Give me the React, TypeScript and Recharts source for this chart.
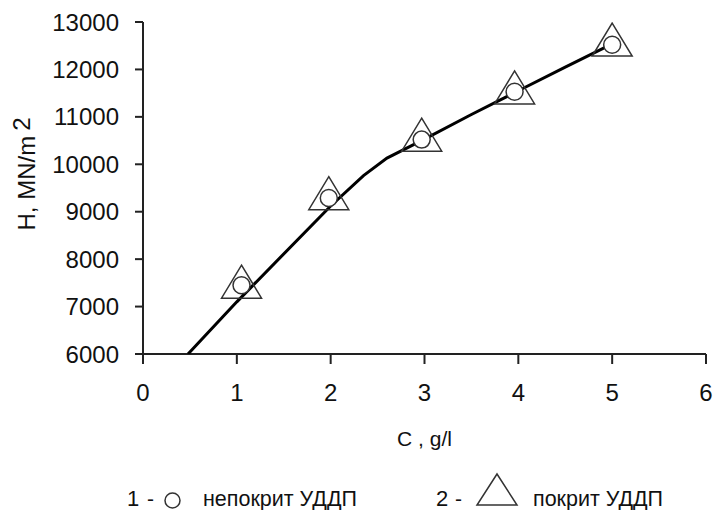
import React from 'react';
import { ScatterChart, Scatter, XAxis, YAxis, Label } from 'recharts';

// concentration, g/l
const xTicks = [0, 1, 2, 3, 4, 5, 6];
const yTicks = [6000, 7000, 8000, 9000, 10000, 11000, 12000, 13000];

// measured points
const pointX = [1.05, 1.98, 2.97, 3.96, 5.0];
const uncoated = [7450, 9290, 10520, 11530, 12520];
const coated = [7525, 9390, 10625, 11620, 12630];

// drawn curve
const curveX = [0.48, 1, 2, 2.35, 2.6, 3, 3.5, 4, 4.5, 5];
const curveY = [6000, 7100, 9120, 9760, 10130, 10530, 11050, 11550, 12050, 12540];

const legendLabels = ['непокрит УДДП', 'покрит УДДП'];

const FONT = '"Liberation Sans", Arial, sans-serif';
const INK = '#111';

const circleData = pointX.map((x, i) => ({ x, y: uncoated[i] }));
const triangleData = pointX.map((x, i) => ({ x, y: coated[i] }));
const curveData = curveX.map((x, i) => ({ x, y: curveY[i] }));

const NoDot = () => <g />;

const CircleDot = (props: any) => (
  <circle cx={props.cx} cy={props.cy} r={8.5} fill="#fff" stroke="#333" strokeWidth={1.5} />
);

const TriangleDot = (props: any) => {
  const { cx, cy } = props;
  return (
    <path
      d={`M${cx},${cy - 16.5} L${cx + 20},${cy + 16.5} L${cx - 20},${cy + 16.5} Z`}
      fill="none"
      stroke="#333"
      strokeWidth={1.5}
    />
  );
};

const XTick = (props: any) => (
  <text x={props.x} y={props.y} dy={17} textAnchor="middle" fontFamily={FONT} fontSize={24} fill={INK}>
    {props.payload.value}
  </text>
);

const YTick = (props: any) => (
  <text x={props.x} y={props.y} dy={8.5} textAnchor="end" fontFamily={FONT} fontSize={24} fill={INK}>
    {props.payload.value}
  </text>
);

const YTitle = () => (
  <text
    x={0}
    y={0}
    transform="translate(35, 174) rotate(-90)"
    textAnchor="middle"
    fontFamily={FONT}
    fontSize={24}
    fill={INK}
  >
    H, MN/m<tspan dx={5} dy={-5}>2</tspan>
  </text>
);

const App: React.FC = () => {
  return (
    <div style={{ position: 'absolute', left: 0, top: 0, width: 714, height: 510, background: '#fff' }}>
      <ScatterChart width={714} height={510} margin={{ top: 22, right: 8, left: 43, bottom: 56 }}>
        <XAxis
          type="number"
          dataKey="x"
          domain={[0, 6]}
          ticks={xTicks}
          allowDataOverflow
          height={100}
          tickSize={10}
          tickMargin={20}
          stroke="#222"
          strokeWidth={2}
          tick={<XTick />}
        >
          <Label
            value="C , g/l"
            position="insideBottom"
            offset={8}
            style={{ fontFamily: FONT, fontSize: 21, fill: INK }}
          />
        </XAxis>
        <YAxis
          type="number"
          dataKey="y"
          domain={[6000, 13000]}
          ticks={yTicks}
          allowDataOverflow
          width={100}
          tickSize={8}
          tickMargin={16}
          stroke="#222"
          strokeWidth={2}
          tick={<YTick />}
        >
          <Label content={<YTitle />} />
        </YAxis>
        <Scatter
          data={curveData}
          line={{ stroke: '#000', strokeWidth: 3 }}
          lineType="joint"
          shape={NoDot}
          isAnimationActive={false}
        />
        <Scatter data={circleData} shape={CircleDot} isAnimationActive={false} />
        <Scatter data={triangleData} shape={TriangleDot} isAnimationActive={false} />
      </ScatterChart>

      <svg width={714} height={50} style={{ position: 'absolute', left: 0, top: 460 }}>
        <text x={127} y={46} fontFamily={FONT} fontSize={22} fill={INK}>1</text>
        <text x={147} y={46} fontFamily={FONT} fontSize={21} fill={INK}>-</text>
        <circle cx={172.5} cy={40.5} r={7.5} fill="#fff" stroke="#333" strokeWidth={1.5} />
        <text x={203} y={46} fontFamily={FONT} fontSize={21.5} fill={INK}>{legendLabels[0]}</text>
        <text x={436} y={46} fontFamily={FONT} fontSize={22} fill={INK}>2</text>
        <text x={455} y={46} fontFamily={FONT} fontSize={21} fill={INK}>-</text>
        <path d="M497,14 L517,45 L477,45 Z" fill="none" stroke="#333" strokeWidth={1.5} />
        <text x={533} y={46} fontFamily={FONT} fontSize={21.5} fill={INK}>{legendLabels[1]}</text>
      </svg>
    </div>
  );
};

export default App;
